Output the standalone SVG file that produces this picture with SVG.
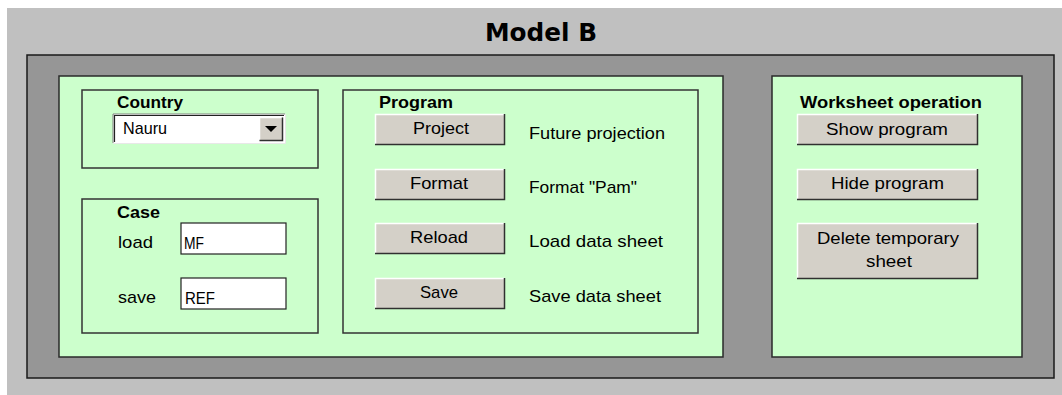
<svg xmlns="http://www.w3.org/2000/svg" width="1062" height="395" viewBox="0 0 1062 395">
<style>
.lbl{font-family:"Liberation Sans",Arial,sans-serif;font-size:17px;fill:#000}
.bold{font-family:"Liberation Sans",Arial,sans-serif;font-size:17px;font-weight:bold;fill:#000}
.btxt{font-family:"Liberation Sans",Arial,sans-serif;font-size:17px;fill:#000;text-anchor:middle}
.panel{fill:#ccffcc;stroke:#2a2a2a;stroke-width:1.5}
.box{fill:none;stroke:#333;stroke-width:1.5}
.btn{fill:#d4d0c8}
.hi{fill:none;stroke:#ffffff;stroke-width:1.5}
.sh{fill:none;stroke:#303030;stroke-width:1.5}
.field{fill:#ffffff;stroke:#222;stroke-width:1.2}
</style>
<rect x="0" y="0" width="1062" height="395" fill="#ffffff"/>
<rect x="7" y="8" width="1055" height="387" fill="#c0c0c0"/>
<g id="title">
<text x="541" y="41" text-anchor="middle" font-family="'DejaVu Sans',sans-serif" font-weight="bold" font-size="25" textLength="112" lengthAdjust="spacingAndGlyphs" fill="#000">Model B</text>
</g>
<g id="frame">
<rect x="27" y="55" width="1027" height="323" fill="#969696" stroke="#1a1a1a" stroke-width="1.5"/>
</g>
<g id="main-panel">
<rect class="panel" x="59" y="76" width="664" height="281"/>
</g>
<g id="worksheet-panel">
<rect class="panel" x="772" y="76" width="250" height="281"/>
<text class="bold" x="800" y="108" textLength="182" lengthAdjust="spacingAndGlyphs">Worksheet operation</text>
</g>
<g id="country">
<rect class="box" x="82" y="90" width="236" height="78"/>
<text class="bold" x="117" y="108" textLength="66" lengthAdjust="spacingAndGlyphs">Country</text>
<rect x="113" y="114" width="172" height="29" fill="#ffffff"/>
<polyline points="113,143 113,114 285,114" fill="none" stroke="#808080" stroke-width="1"/>
<polyline points="114.5,142 114.5,115.5 284,115.5" fill="none" stroke="#222" stroke-width="1.2"/>
<polyline points="113,143.5 285.5,143.5 285.5,114" fill="none" stroke="#e8e8e8" stroke-width="1"/>
<text class="lbl" x="123" y="134" textLength="44" lengthAdjust="spacingAndGlyphs">Nauru</text>
<g id="dropdown-arrow">
<rect class="btn" x="259" y="117" width="24" height="24"/>
<polyline class="hi" points="259.5,140.5 259.5,117.5 282.5,117.5"/>
<polyline class="sh" points="259.5,140.5 282.5,140.5 282.5,117.5"/>
<polygon points="265,126 277,126 271,132" fill="#000"/>
</g>
</g>
<g id="case">
<rect class="box" x="82" y="199" width="236" height="134"/>
<text class="bold" x="117" y="218" textLength="43" lengthAdjust="spacingAndGlyphs">Case</text>
<text class="lbl" x="118" y="248" textLength="35" lengthAdjust="spacingAndGlyphs">load</text>
<rect class="field" x="181" y="223" width="105" height="31"/>
<text class="lbl" x="184" y="249" textLength="20" lengthAdjust="spacingAndGlyphs">MF</text>
<text class="lbl" x="118" y="303" textLength="38" lengthAdjust="spacingAndGlyphs">save</text>
<rect class="field" x="181" y="278" width="105" height="31"/>
<text class="lbl" x="185" y="304" textLength="30" lengthAdjust="spacingAndGlyphs">REF</text>
</g>
<g id="program">
<rect class="box" x="343" y="90" width="355" height="243"/>
<text class="bold" x="379" y="108" textLength="74" lengthAdjust="spacingAndGlyphs">Program</text>
<g id="btn-project">
<rect class="btn" x="375" y="114" width="130" height="31"/>
<polyline class="hi" points="375.5,144 375.5,114.5 504,114.5"/>
<polyline class="sh" points="375,144.5 504.5,144.5 504.5,114"/>
<text class="btxt" x="441" y="134" textLength="56" lengthAdjust="spacingAndGlyphs">Project</text>
</g>
<text class="lbl" x="529" y="139" textLength="136" lengthAdjust="spacingAndGlyphs">Future projection</text>
<g id="btn-format">
<rect class="btn" x="375" y="169" width="130" height="31"/>
<polyline class="hi" points="375.5,199 375.5,169.5 504,169.5"/>
<polyline class="sh" points="375,199.5 504.5,199.5 504.5,169"/>
<text class="btxt" x="439" y="189" textLength="58" lengthAdjust="spacingAndGlyphs">Format</text>
</g>
<text class="lbl" x="529" y="193" textLength="108" lengthAdjust="spacingAndGlyphs">Format "Pam"</text>
<g id="btn-reload">
<rect class="btn" x="375" y="223" width="130" height="31"/>
<polyline class="hi" points="375.5,253 375.5,223.5 504,223.5"/>
<polyline class="sh" points="375,253.5 504.5,253.5 504.5,223"/>
<text class="btxt" x="439" y="243" textLength="58" lengthAdjust="spacingAndGlyphs">Reload</text>
</g>
<text class="lbl" x="529" y="247" textLength="134" lengthAdjust="spacingAndGlyphs">Load data sheet</text>
<g id="btn-save">
<rect class="btn" x="375" y="278" width="130" height="31"/>
<polyline class="hi" points="375.5,308 375.5,278.5 504,278.5"/>
<polyline class="sh" points="375,308.5 504.5,308.5 504.5,278"/>
<text class="btxt" x="439" y="298" textLength="38" lengthAdjust="spacingAndGlyphs">Save</text>
</g>
<text class="lbl" x="529" y="302" textLength="132" lengthAdjust="spacingAndGlyphs">Save data sheet</text>
</g>
<g id="btn-show-program">
<rect class="btn" x="797" y="114" width="181" height="31"/>
<polyline class="hi" points="797.5,144 797.5,114.5 977,114.5"/>
<polyline class="sh" points="797,144.5 977.5,144.5 977.5,114"/>
<text class="btxt" x="887" y="135" textLength="122" lengthAdjust="spacingAndGlyphs">Show program</text>
</g>
<g id="btn-hide-program">
<rect class="btn" x="797" y="169" width="181" height="31"/>
<polyline class="hi" points="797.5,199 797.5,169.5 977,169.5"/>
<polyline class="sh" points="797,199.5 977.5,199.5 977.5,169"/>
<text class="btxt" x="887.5" y="189" textLength="113" lengthAdjust="spacingAndGlyphs">Hide program</text>
</g>
<g id="btn-delete-temporary">
<rect class="btn" x="797" y="223" width="181" height="56"/>
<polyline class="hi" points="797.5,278 797.5,223.5 977,223.5"/>
<polyline class="sh" points="797,278.5 977.5,278.5 977.5,223"/>
<text class="btxt" x="888" y="244" textLength="142" lengthAdjust="spacingAndGlyphs">Delete temporary</text>
<text class="btxt" x="889" y="267" textLength="46" lengthAdjust="spacingAndGlyphs">sheet</text>
</g>
<g id="connectors"/>
</svg>
